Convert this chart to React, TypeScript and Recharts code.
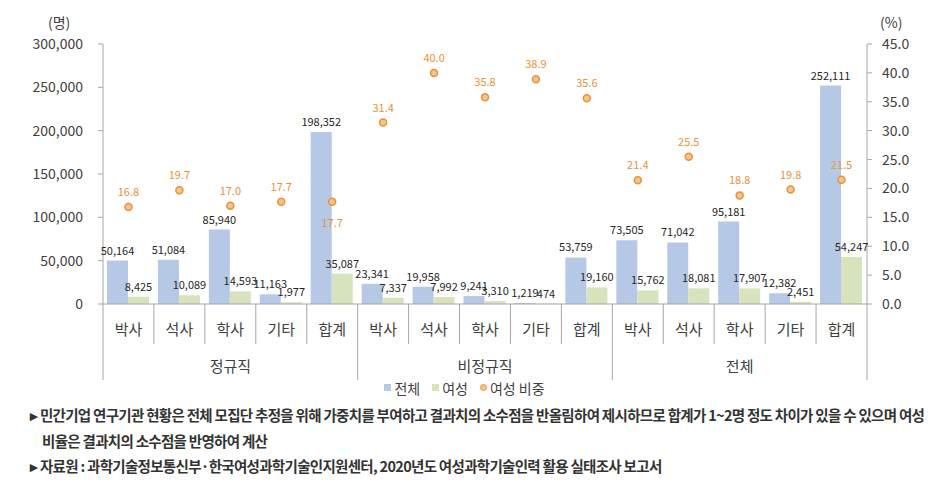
import { ComposedChart, Bar, Line, XAxis, YAxis, Legend, LabelList } from 'recharts';

const categories = ['박사', '석사', '학사', '기타', '합계', '박사', '석사', '학사', '기타', '합계', '박사', '석사', '학사', '기타', '합계'];
const groups = ['정규직', '비정규직', '전체'];
const totalValues = [50164, 51084, 85940, 11163, 198352, 23341, 19958, 9241, 1219, 53759, 73505, 71042, 95181, 12382, 252111];
const womenValues = [8425, 10089, 14593, 1977, 35087, 7337, 7992, 3310, 474, 19160, 15762, 18081, 17907, 2451, 54247];
const ratioValues = [16.8, 19.7, 17.0, 17.7, 17.7, 31.4, 40.0, 35.8, 38.9, 35.6, 21.4, 25.5, 18.8, 19.8, 21.5];
const leftTicks = [0, 50000, 100000, 150000, 200000, 250000, 300000];
const rightTicks = [0, 5, 10, 15, 20, 25, 30, 35, 40, 45];

const data = categories.map((label, i) => ({
  label,
  total: totalValues[i],
  women: womenValues[i],
  ratio: ratioValues[i],
}));

const FONT = '"Noto Sans CJK KR", "Noto Sans", sans-serif';
const AXIS = '#A6A6A6';
const TEXT = '#404040';
const BLUE = '#B5C9E6';
const GREEN = '#D6E3BC';
const ORANGE = '#E8923A';

const LEFT_W = 103;
const RIGHT_W = 74;
const CHART_W = 941;
const PLOT_W = CHART_W - LEFT_W - RIGHT_W;
const BAND = PLOT_W / categories.length;

function CategoryTick(props: any) {
  const { x, y, payload, index } = props;
  const left = x - BAND / 2;
  const right = x + BAND / 2;
  const groupEdge = index % 5 === 0;
  return (
    <g>
      <line x1={left} x2={left} y1={y} y2={y + (groupEdge ? 76 : 40)} stroke={AXIS} />
      {index === categories.length - 1 && (
        <line x1={right} x2={right} y1={y} y2={y + 76} stroke={AXIS} />
      )}
      <text x={x} y={y + 31} textAnchor="middle" fontSize={15} fill={TEXT} fontFamily={FONT}>
        {payload.value}
      </text>
      {index % 5 === 2 && (
        <text x={x} y={y + 68} textAnchor="middle" fontSize={15} fill={TEXT} fontFamily={FONT}>
          {groups[Math.floor(index / 5)]}
        </text>
      )}
    </g>
  );
}

function RatioLabel(props: any) {
  const { x, y, value, index } = props;
  const below = index === 4;
  return (
    <text x={x} y={below ? y + 25 : y - 11} textAnchor="middle" fontSize={11} fill={ORANGE} fontFamily={FONT}>
      {Number(value).toFixed(1)}
    </text>
  );
}

function LegendContent() {
  const item = (marker: any, text: string) => (
    <span style={{ display: 'inline-flex', alignItems: 'center', marginRight: 12 }}>
      {marker}
      <span style={{ marginLeft: 3 }}>{text}</span>
    </span>
  );
  return (
    <div style={{ textAlign: 'center', fontSize: 14, color: TEXT, fontFamily: FONT }}>
      {item(<span style={{ width: 7, height: 7, background: BLUE, display: 'inline-block' }} />, '전체')}
      {item(<span style={{ width: 7, height: 7, background: GREEN, display: 'inline-block' }} />, '여성')}
      {item(
        <span style={{ width: 5, height: 5, borderRadius: '50%', background: '#F8C48E', border: `1px solid ${ORANGE}`, display: 'inline-block' }} />,
        '여성 비중'
      )}
    </div>
  );
}

export default function App() {
  return (
    <div style={{ position: 'absolute', left: 0, top: 0, width: 941, height: 485, background: '#fff', fontFamily: FONT }}>
      <div style={{ position: 'absolute', left: 48, top: 12, fontSize: 14, color: TEXT }}>(명)</div>
      <div style={{ position: 'absolute', left: 880, top: 12, fontSize: 14, color: TEXT }}>(%)</div>
      <ComposedChart
        width={CHART_W}
        height={400}
        data={data}
        margin={{ top: 44, right: 0, bottom: 0, left: 0 }}
        barCategoryGap={4}
        barGap={0}
      >
        <XAxis
          dataKey="label"
          interval={0}
          tickLine={false}
          tickSize={0}
          tickMargin={0}
          height={76}
          stroke={AXIS}
          tick={<CategoryTick />}
        />
        <YAxis
          yAxisId="left"
          width={LEFT_W}
          domain={[0, 300000]}
          ticks={leftTicks}
          tickSize={5}
          tickMargin={15}
          stroke={AXIS}
          tick={{ fill: TEXT, fontSize: 14, fontFamily: FONT }}
          tickFormatter={(v: number) => v.toLocaleString('en-US')}
        />
        <YAxis
          yAxisId="right"
          orientation="right"
          width={RIGHT_W}
          domain={[0, 45]}
          ticks={rightTicks}
          tickSize={5}
          tickMargin={10}
          stroke={AXIS}
          tick={{ fill: TEXT, fontSize: 14, fontFamily: FONT }}
          tickFormatter={(v: number) => v.toFixed(1)}
        />
        <Legend content={<LegendContent />} verticalAlign="bottom" height={20} wrapperStyle={{ bottom: 5 }} />
        <Bar yAxisId="left" dataKey="total" name="전체" fill={BLUE} isAnimationActive={false}>
          <LabelList
            dataKey="total"
            position="top"
            offset={6}
            fontSize={11}
            fill="#262626"
            fontFamily={FONT}
            formatter={(v: any) => Number(v).toLocaleString('en-US')}
          />
        </Bar>
        <Bar yAxisId="left" dataKey="women" name="여성" fill={GREEN} isAnimationActive={false}>
          <LabelList
            dataKey="women"
            position="top"
            offset={6}
            fontSize={11}
            fill="#262626"
            fontFamily={FONT}
            formatter={(v: any) => Number(v).toLocaleString('en-US')}
          />
        </Bar>
        <Line
          yAxisId="right"
          dataKey="ratio"
          name="여성 비중"
          stroke="none"
          dot={{ r: 3.5, fill: '#F8C48E', stroke: ORANGE, strokeWidth: 1.5 }}
          activeDot={false}
          isAnimationActive={false}
        >
          <LabelList dataKey="ratio" content={<RatioLabel />} />
        </Line>
      </ComposedChart>
      <div style={{ position: 'absolute', left: 30, top: 402, fontSize: 14.5, lineHeight: '25.5px', color: '#333', fontWeight: 700, letterSpacing: -0.7, whiteSpace: 'nowrap' }}>
        <div>▸ 민간기업 연구기관 현황은 전체 모집단 추정을 위해 가중치를 부여하고 결과치의 소수점을 반올림하여 제시하므로 합계가 1~2명 정도 차이가 있을 수 있으며 여성</div>
        <div style={{ paddingLeft: 12 }}>비율은 결과치의 소수점을 반영하여 계산</div>
        <div>▸ 자료원 : 과학기술정보통신부·한국여성과학기술인지원센터, 2020년도 여성과학기술인력 활용 실태조사 보고서</div>
      </div>
    </div>
  );
}
